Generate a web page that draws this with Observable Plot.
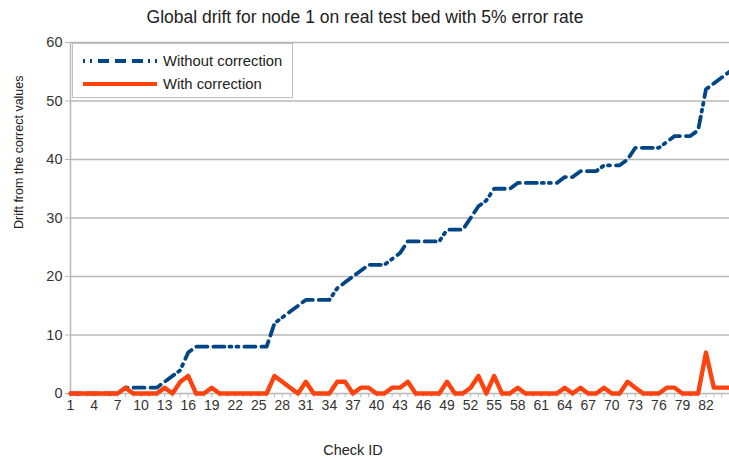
<!DOCTYPE html>
<html><head><meta charset="utf-8">
<script src="https://cdn.jsdelivr.net/npm/d3@7"></script>
<script src="https://cdn.jsdelivr.net/npm/@observablehq/plot@0.6"></script>
<style>
body{margin:0;background:#fff;}
#wrap{position:relative;width:729px;height:458px;overflow:hidden;font-family:"Liberation Sans",Arial,sans-serif;}
#title{position:absolute;left:0;top:7px;width:730px;text-align:center;font-size:17.5px;color:#222;}
#legend{position:absolute;left:72px;top:43px;width:221px;height:55px;border:1px solid #c0c0c0;background:#fff;box-sizing:border-box;font-size:14.8px;color:#222;}
.row{position:absolute;left:0;height:20px;display:flex;align-items:center;}
.row svg{margin-left:10px;margin-right:6px;}
</style></head>
<body><div id="wrap"><div id="title">Global drift for node 1 on real test bed with 5% error rate</div></div>
<script>
const checkIds = [1,2,3,4,5,6,7,8,9,10,11,12,13,14,15,16,17,18,19,20,21,22,23,24,25,26,27,28,29,30,31,32,33,34,35,36,37,38,39,40,41,42,43,44,45,46,47,48,49,50,51,52,53,54,55,56,57,58,59,60,61,62,63,64,65,66,67,68,69,70,71,72,73,74,75,76,77,78,79,80,81,82,83,84,85];
const withoutCorrection = [0,0,0,0,0,0,0, 1,1,1,1,1, 2,3,4,7,8, 8,8,8,8,8,8,8,8,8,
  12,13,14,15,16,16,16,16,18,19,20,21,22,22,22,23,24,
  26,26,26,26,26, 28,28,28, 30,32,33, 35,35,35, 36,36,36,36,36,36,
  37,37, 38,38,38, 39,39,39, 40, 42,42,42,42, 43, 44,44,44, 45, 52,53,54,55];
const withCorrection = [0,0,0,0,0,0,0, 1, 0,0,0,0, 1, 0, 2, 3, 0, 0, 1, 0,0,0,0,0,0,0,
  3,2,1,0,2,0,0,0,2,2,0,1,1,0,0,1,1,2,
  0,0,0,0,2,0,0,1,3,0,3,0,0,1,0,0,0,0,0,1,0,1,0,0,1,0,0,2,1,0,0,0,1,1,0,0,0,7,1,1,1];
const seriesNames = ["Without correction", "With correction"];
const seriesColors = ["#004586", "#ff420e"];
const xTickLabels = [1,4,7,10,13,16,19,22,25,28,31,34,37,40,43,46,49,52,55,58,61,64,67,70,73,76,79,82];
const yTicks = [0,10,20,30,40,50,60];
const titleText = "Global drift for node 1 on real test bed with 5% error rate";
const xLabel = "Check ID";
const yLabel = "Drift from the correct values";

const dashes = "11,6,11,6,11,5,2,5,2,6";
const rows = checkIds.map((id, i) => ({id, a: withoutCorrection[i], b: withCorrection[i]}));

const chart = Plot.plot({
  width: 729, height: 458,
  marginLeft: 70, marginRight: 0, marginTop: 42, marginBottom: 65,
  style: {fontFamily: '"Liberation Sans", Arial, sans-serif', fontSize: "14px", color: "#333", background: "transparent", overflow: "visible"},
  x: {domain: [1, 85]},
  y: {domain: [0, 60]},
  marks: [
    Plot.gridY(yTicks, {stroke: "#b8b8b8", strokeOpacity: 1, strokeWidth: 1.5}),
    Plot.ruleX([1], {stroke: "#b8b8b8", strokeWidth: 1.5}),
    Plot.axisY(yTicks, {tickSize: 5, tickPadding: 3, stroke: "#b8b8b8", label: null, fill: "#333", fontSize: 14.5}),
    Plot.axisX(checkIds, {tickSize: 4, tickPadding: 3, stroke: "#b8b8b8", label: null, fill: "#333", fontSize: 14,
      tickFormat: d => xTickLabels.includes(d) ? String(d) : ""}),
    Plot.line(rows, {x: "id", y: "a", stroke: seriesColors[0], strokeWidth: 3.8, strokeDasharray: dashes, strokeLinejoin: "round"}),
    Plot.line(rows, {x: "id", y: "b", stroke: seriesColors[1], strokeWidth: 4.4, strokeLinejoin: "round"}),
    Plot.text([yLabel], {frameAnchor: "left", rotate: -90, dx: -52, dy: 11, fontSize: 12.5, fill: "#222"}),
    Plot.text([xLabel], {frameAnchor: "bottom", lineAnchor: "middle", dx: -47, dy: 57, fontSize: 14.5, fill: "#222"})
  ]
});
const wrap = document.getElementById("wrap");
document.getElementById("title").textContent = titleText;
wrap.insertBefore(chart, wrap.firstChild);
chart.style.position = "absolute"; chart.style.left = "0"; chart.style.top = "0";

const legend = document.createElement("div");
legend.id = "legend";
seriesNames.forEach((name, i) => {
  const row = document.createElement("div");
  row.className = "row";
  row.style.top = (i === 0 ? 7 : 30) + "px";
  row.innerHTML = `<svg width="74" height="8"><line x1="0" y1="4" x2="74" y2="4" stroke="${seriesColors[i]}" stroke-width="3.8" ${i === 0 ? `stroke-dasharray="2,5,2,6,11,6,11,6,11,5"` : ""}/></svg><span>${name}</span>`;
  legend.appendChild(row);
});
wrap.appendChild(legend);
</script>
</body></html>
